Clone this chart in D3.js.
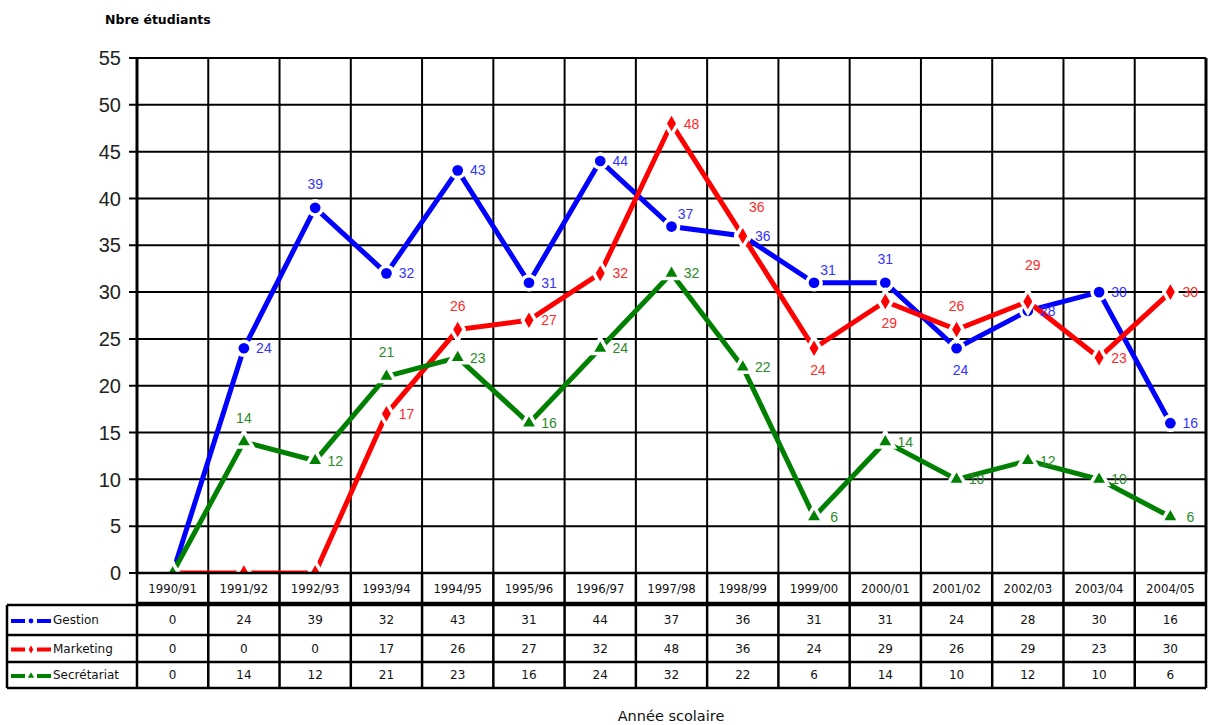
<!DOCTYPE html>
<meta charset="utf-8">
<style>
    body { margin: 0; background: #fff; }
    .grid line { stroke: #000; stroke-width: 2px; }
    .tbl line { stroke: #000; stroke-width: 2.5px; }
    .ytick { font-family: "Liberation Sans", Arial, sans-serif; font-size: 20px; fill: #222; }
    .cat { font-family: "DejaVu Sans Condensed", "DejaVu Sans", sans-serif; font-size: 13px; fill: #111; }
    .val { font-family: "DejaVu Sans", sans-serif; font-size: 12px; fill: #111; }
    .lbl { font-family: "Liberation Sans", Arial, sans-serif; font-size: 14px; }
</style>
<body>
<script src="https://d3js.org/d3.v7.min.js"></script>
<script>
    // data
    var years = ["1990/91", "1991/92", "1992/93", "1993/94", "1994/95", "1995/96", "1996/97", "1997/98",
        "1998/99", "1999/00", "2000/01", "2001/02", "2002/03", "2003/04", "2004/05"];
    var gestion = [0, 24, 39, 32, 43, 31, 44, 37, 36, 31, 31, 24, 28, 30, 16];
    var marketing = [0, 0, 0, 17, 26, 27, 32, 48, 36, 24, 29, 26, 29, 23, 30];
    var secretariat = [0, 14, 12, 21, 23, 16, 24, 32, 22, 6, 14, 10, 12, 10, 6];
    var yTicks = [0, 5, 10, 15, 20, 25, 30, 35, 40, 45, 50, 55];

    // where each value label sits (r = right, a = above, ar = above right, b = below)
    var gestionPos = ["r", "r", "a", "r", "r", "r", "r", "ar", "r", "ar", "a", "b", "r", "r", "r"];
    var marketingPos = ["r", "r", "r", "r", "a", "r", "r", "r", "aar", "b", "b", "a", "aa", "r", "r"];
    var secretariatPos = ["r", "a", "r", "a", "r", "r", "r", "r", "r", "r", "r", "r", "r", "r", "r"];

    var series = [
        { name: "Gestion", values: gestion, pos: gestionPos, color: "#0000ff", label: "#3333ff", shape: d3.symbolCircle, size: 90 },
        { name: "Marketing", values: marketing, pos: marketingPos, color: "#ff0000", label: "#ff2a2a", shape: d3.symbolDiamond, size: 70 },
        { name: "Secrétariat", values: secretariat, pos: secretariatPos, color: "#008000", label: "#2a8a2a", shape: d3.symbolTriangle, size: 60 }
    ];

    var W = 1210, H = 725;
    var plotL = 137, plotR = 1206, plotT = 58, plotB = 573;

    var svg = d3.select("body").append("svg")
        .attr("width", W)
        .attr("height", H);

    var x = d3.scaleBand().domain(years).range([plotL, plotR]);
    var y = d3.scaleLinear().domain([0, 55]).range([plotB, plotT]);

    function cx(i) { return x(years[i]) + x.bandwidth() / 2; }

    // grid
    var grid = svg.append("g").attr("class", "grid");
    grid.selectAll(".h").data(yTicks).enter().append("line")
        .attr("x1", plotL - 8).attr("x2", plotR)
        .attr("y1", function (d) { return y(d); })
        .attr("y2", function (d) { return y(d); });
    grid.selectAll(".v").data(years.concat(["end"])).enter().append("line")
        .attr("x1", function (d, i) { return plotL + i * x.bandwidth(); })
        .attr("x2", function (d, i) { return plotL + i * x.bandwidth(); })
        .attr("y1", plotT).attr("y2", plotB);
    svg.append("line").attr("x1", plotR).attr("x2", plotR).attr("y1", plotT).attr("y2", plotB)
        .attr("stroke", "#000").attr("stroke-width", 3);
    svg.append("line").attr("x1", plotL).attr("x2", plotL).attr("y1", plotT).attr("y2", plotB)
        .attr("stroke", "#000").attr("stroke-width", 3);

    svg.selectAll(".ytick").data(yTicks).enter().append("text")
        .attr("class", "ytick")
        .attr("x", 121)
        .attr("y", function (d) { return y(d); })
        .attr("dy", "0.36em")
        .attr("text-anchor", "end")
        .text(function (d) { return d; });

    svg.append("text")
        .attr("x", 105).attr("y", 24)
        .style("font-family", "'DejaVu Sans', sans-serif")
        .style("font-weight", "bold")
        .style("font-size", "12.5px")
        .text("Nbre étudiants");

    // lines
    svg.append("clipPath").attr("id", "plot")
        .append("rect").attr("x", plotL).attr("y", plotT - 20).attr("width", plotR - plotL).attr("height", plotB - plotT + 20);

    var plot = svg.append("g").attr("clip-path", "url(#plot)");
    var line = d3.line()
        .x(function (d, i) { return cx(i); })
        .y(function (d) { return y(d); });

    series.forEach(function (s) {
        var g = plot.append("g");
        g.append("path")
            .datum(s.values)
            .attr("d", line)
            .attr("fill", "none")
            .attr("stroke", s.color)
            .attr("stroke-width", 5);
        var sym = d3.symbol().type(s.shape).size(s.size);
        var pts = g.selectAll(".pt").data(s.values).enter().append("g")
            .attr("transform", function (d, i) {
                return "translate(" + cx(i) + "," + y(d) + ")";
            });
        pts.append("path").attr("d", sym).attr("fill", "#fff").attr("stroke", "#fff").attr("stroke-width", 7);
        pts.append("path").attr("d", sym).attr("fill", s.color);
    });

    // value labels (zeros are not labelled)
    var offs = { r: [20, 0], a: [0, -24], aa: [5, -36], ar: [14, -13], aar: [14, -29], b: [4, 22] };
    series.forEach(function (s) {
        var pts = s.values.map(function (v, i) { return { v: v, i: i }; })
            .filter(function (p) { return p.v > 0; });
        svg.selectAll(null).data(pts).enter()
            .append("text")
            .attr("class", "lbl")
            .attr("fill", s.label)
            .attr("text-anchor", "middle")
            .attr("dy", "0.36em")
            .attr("x", function (p) { return cx(p.i) + offs[s.pos[p.i]][0]; })
            .attr("y", function (p) { return y(p.v) + offs[s.pos[p.i]][1]; })
            .text(function (p) { return p.v; });
    });

    // data table
    var tbl = svg.append("g").attr("class", "tbl");
    var catBottom = 603, rowTop = 605, rowH = [30, 27, 26];
    var rowY = [rowTop, rowTop + rowH[0], rowTop + rowH[0] + rowH[1], rowTop + rowH[0] + rowH[1] + rowH[2]];

    years.concat(["end"]).forEach(function (d, i) {
        var xx = plotL + i * x.bandwidth();
        tbl.append("line").attr("x1", xx).attr("x2", xx).attr("y1", plotB).attr("y2", rowY[3]);
    });
    tbl.append("line").attr("x1", plotL).attr("x2", plotR).attr("y1", catBottom).attr("y2", catBottom);
    tbl.append("line").attr("x1", 7).attr("x2", 7).attr("y1", rowY[0]).attr("y2", rowY[3]);
    rowY.forEach(function (yy) {
        tbl.append("line").attr("x1", 7).attr("x2", plotR).attr("y1", yy).attr("y2", yy);
    });
    tbl.append("line").attr("x1", plotL).attr("x2", plotR).attr("y1", plotB).attr("y2", plotB);

    svg.selectAll(".cat").data(years).enter().append("text")
        .attr("class", "cat")
        .attr("x", function (d) { return x(d) + x.bandwidth() / 2; })
        .attr("y", (plotB + catBottom) / 2)
        .attr("dy", "0.36em")
        .attr("text-anchor", "middle")
        .text(function (d) { return d; });

    series.forEach(function (s, r) {
        var cy = (rowY[r] + rowY[r + 1]) / 2;
        svg.selectAll(null).data(s.values).enter().append("text")
            .attr("class", "val")
            .attr("x", function (d, i) { return cx(i); })
            .attr("y", cy)
            .attr("dy", "0.36em")
            .attr("text-anchor", "middle")
            .text(function (d) { return d; });

        // legend key
        var key = svg.append("g");
        key.append("line").attr("x1", 11).attr("x2", 25).attr("y1", cy + 1).attr("y2", cy + 1)
            .attr("stroke", s.color).attr("stroke-width", 4);
        key.append("line").attr("x1", 37).attr("x2", 51).attr("y1", cy + 1).attr("y2", cy + 1)
            .attr("stroke", s.color).attr("stroke-width", 4);
        key.append("path").attr("d", d3.symbol().type(s.shape).size(18))
            .attr("transform", "translate(31," + (cy + 1) + ")")
            .attr("fill", s.color);
        key.append("text")
            .attr("x", 53).attr("y", cy).attr("dy", "0.36em")
            .style("font-family", "'DejaVu Sans', sans-serif")
            .style("font-size", "12px")
            .attr("fill", "#111")
            .text(s.name);
    });

    svg.append("text")
        .attr("x", 671).attr("y", 721)
        .attr("text-anchor", "middle")
        .style("font-family", "'DejaVu Sans', sans-serif")
        .style("font-size", "14.5px")
        .attr("fill", "#111")
        .text("Année scolaire");
</script>
</body>
